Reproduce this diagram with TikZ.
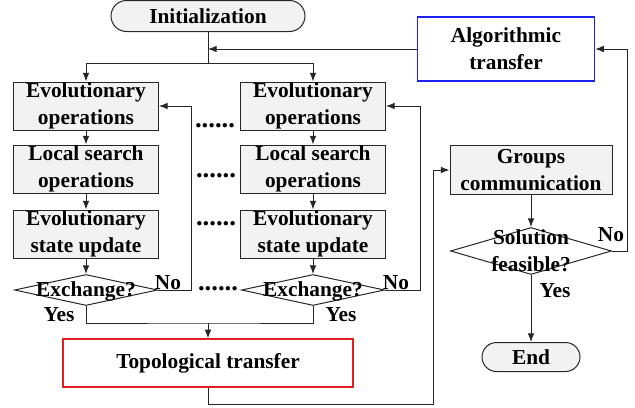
\documentclass[tikz,border=0pt]{standalone}
\usepackage{fontspec}
\setmainfont{Liberation Serif}
\usetikzlibrary{arrows.meta,shapes.geometric,shapes.misc}
\definecolor{boxfill}{HTML}{F2F2F2}
\definecolor{linegray}{HTML}{262626}
\definecolor{bluebd}{HTML}{2020F0}
\definecolor{redbd}{HTML}{E02020}
\begin{document}
\begin{tikzpicture}[x=0.75pt,y=-0.75pt,
  every node/.style={font=\fontsize{16}{20}\selectfont\bfseries, align=center, inner sep=0pt},
  line/.style={draw=linegray, line width=0.75pt},
  arr/.style={line, -{Latex[length=6.5pt,width=5pt]}},
  box/.style={draw=linegray, line width=0.75pt, fill=boxfill, minimum width=108.75pt, minimum height=36pt},
  term/.style={rounded rectangle, draw=linegray, line width=0.75pt, fill=boxfill},
  dia/.style={diamond, draw=linegray, line width=0.75pt},
  dots/.style={font=\fontsize{20}{20}\selectfont\bfseries}]
\useasboundingbox (0,0) rectangle (635,407);

% left column
\node[term, minimum width=145.5pt, minimum height=23.25pt] (init) at (208,16) {Initialization};
\node[box] (evoL) at (86,106) {Evolutionary\\operations};
\node[box] (lsL) at (86,169) {Local search\\operations};
\node[box] (esL) at (86,234) {Evolutionary\\state update};
\node[dia, minimum width=107.25pt, minimum height=23.25pt] (exL) at (86,290) {};
\node (exLt) at (86,291) {Exchange?};

% right column
\node[box] (evoR) at (313,106) {Evolutionary\\operations};
\node[box] (lsR) at (313,169) {Local search\\operations};
\node[box] (esR) at (313,234) {Evolutionary\\state update};
\node[dia, minimum width=107.25pt, minimum height=23.25pt] (exR) at (313,290) {};
\node (exRt) at (313,291) {Exchange?};

% dots
\node[dots] (d1) at (215,126) {......};
\node[dots] (d2) at (216,176) {......};
\node[dots] (d3) at (216,224) {......};
\node[dots] (d4) at (218,289) {......};

% bottom / right
\node[draw=redbd, line width=0.9pt, minimum width=217.5pt, minimum height=36pt] (topo) at (208,363) {Topological transfer};
\node[draw=bluebd, line width=0.9pt, minimum width=132.75pt, minimum height=48pt] (alg) at (506,49) {Algorithmic\\transfer};
\node[box, minimum width=121.5pt, minimum height=36.75pt] (grp) at (531,170) {Groups\\communication};
\node[dia, minimum width=120.75pt, minimum height=35.25pt] (sol) at (531,251) {};
\node (solt) at (531,251) {Solution\\feasible?};
\node[term, minimum width=73.5pt, minimum height=21.75pt] (end) at (531,357) {End};

% labels
\node (noL) at (168,283) {No};
\node (yesL) at (59,315) {Yes};
\node (noR) at (396,283) {No};
\node (yesR) at (341,315) {Yes};
\node (noS) at (611,235) {No};
\node (yesS) at (555,291) {Yes};

% connectors
\coordinate (j) at (208,63);
\coordinate (m) at (208,323);
\draw[line] (init.south) -- (j);
\draw[arr] (j) -| (evoL.north);
\draw[arr] (j) -| (evoR.north);
\draw[arr] (alg.west) -- (alg.west -| init.south);

\draw[arr] (evoL) -- (lsL);
\draw[arr] (lsL) -- (esL);
\draw[arr] (esL) -- (exL.north);
\draw[arr] (evoR) -- (lsR);
\draw[arr] (lsR) -- (esR);
\draw[arr] (esR) -- (exR.north);

\draw[arr] (exL.east) -- ++(33,0) |- (evoL.east);
\draw[arr] (exR.east) -- ++(35,0) |- (evoR.east);

\draw[line] (exL.south) |- (m) -| (exR.south);
\draw[arr] (m) -- (topo.north);

\draw[arr] (topo.south) |- (433,404) |- (grp.west);
\draw[arr] (grp.south) -- (sol.north);
\draw[arr] (sol.east) -- ++(15,0) |- (alg.east);
\draw[arr] (sol.south) -- (end.north);
\end{tikzpicture}
\end{document}
